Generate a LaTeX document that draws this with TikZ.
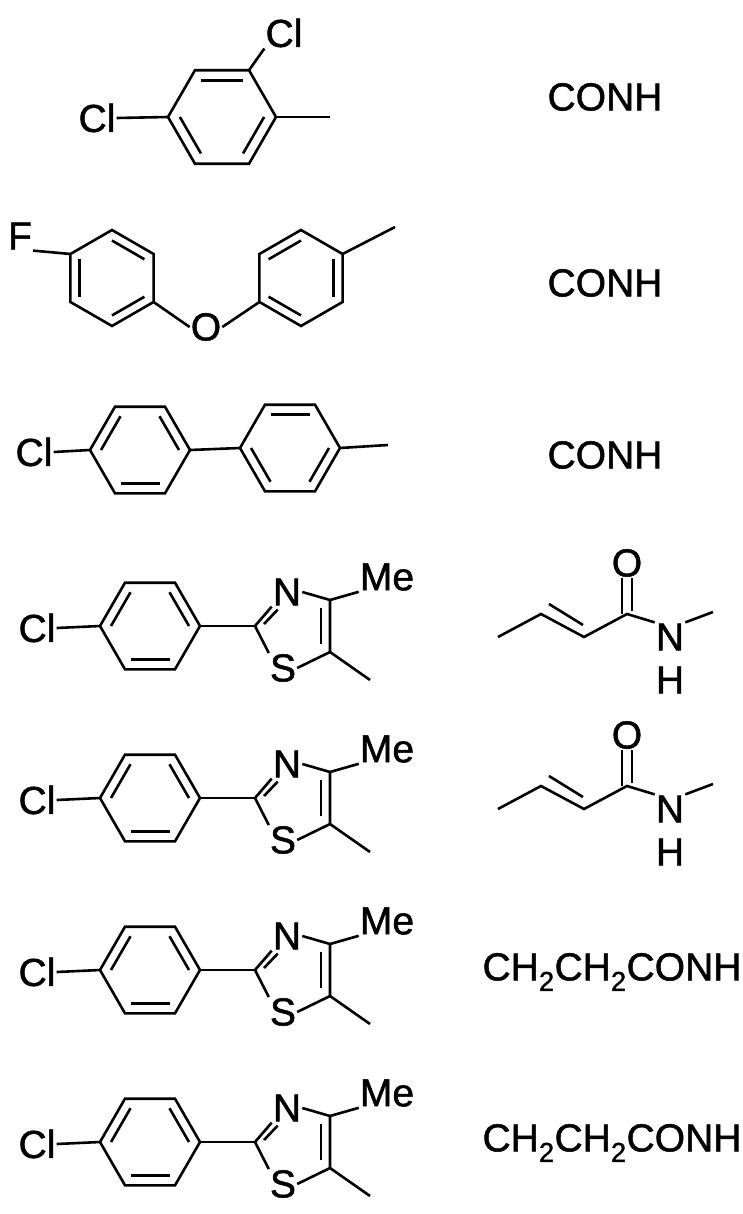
\documentclass[tikz,border=0pt]{standalone}
\usepackage{fontspec}
\setmainfont{Liberation Sans}[BoldFont=Liberation Sans,BoldFeatures={FakeBold=1.3}]
\usetikzlibrary{calc}
\newcommand\hexring[4]{% prefix, center, radius, start angle
  \coordinate (#1c) at #2;
  \foreach \k in {0,...,5}{\coordinate (#1\k) at ($(#1c)+(#4+60*\k:#3)$);}
  \draw[bond] (#10)--(#11)--(#12)--(#13)--(#14)--(#15)--cycle;}
\newcommand\inner[3]{\draw[bond] ($(#1#2)!0.22!(#1c)$)--($(#1#3)!0.22!(#1c)$);}
\newcommand\thiazrow[2]{%
\begin{scope}[shift={(0,#1)},name prefix=#2]
 \hexring{b}{(150,626)}{50}{0}
 \inner{b}{5}{0}\inner{b}{1}{2}\inner{b}{3}{4}
 \node[lab] (cl) at (37,628) {Cl};
 \draw[bond] (cl.east)--(b3);
 \coordinate (c2) at (255,626);
 \node[lab] (n) at (287,592) {N};
 \coordinate (c4) at (330,600);
 \coordinate (c5) at (330,652);
 \node[lab] (s) at (283,668) {S};
 \draw[bond] (b0)--(c2);
 \draw[bond] (c2)--(n.south west);
 \draw[bond] ($(c2)+(9,-2)$)--($(n.south west)+(6,3)$);
 \draw[bond] (n.east)--(c4)--(c5)--(s.east);
 \draw[bond] ($(c4)+(-9,8)$)--($(c5)+(-9,-8)$);
 \draw[bond] (s.north west)--(c2);
 \node[lab] (me) at (387,577) {Me};
 \draw[bond] (c4)--(me.south west);
 \coordinate (m5) at (370,680);
 \draw[bond] (c5)--(m5);
\end{scope}}
\begin{document}
\begin{tikzpicture}[x=1pt,y=-1pt,
  bond/.style={line width=2.6pt,line join=miter},
  lab/.style={font=\fontsize{39}{39}\selectfont\bfseries,inner sep=1pt}]
\useasboundingbox (0,0) rectangle (743,1214);
% row 1
\hexring{a}{(222,117)}{54}{0}
\inner{a}{4}{5}\inner{a}{0}{1}\inner{a}{2}{3}
\node[lab] (cl1) at (284,33) {Cl};
\node[lab] (cl2) at (97,118) {Cl};
\draw[bond] (a5)--(cl1.south west);
\draw[bond] (cl2.east)--(a3);
\coordinate (m1) at (330,117);
\draw[bond] (a0)--(m1);
\node[lab] (t1) at (605,97) {CONH};
% row 2
\hexring{d}{(112,278)}{48}{30}
\inner{d}{4}{5}\inner{d}{3}{2}\inner{d}{1}{0}
\hexring{e}{(301,278)}{48}{30}
\inner{e}{3}{4}\inner{e}{5}{0}\inner{e}{2}{1}
\node[lab] (f) at (20,236) {F};
\draw[bond] (f.south east)--(d3);
\node[lab] (o) at (206,327) {O};
\draw[bond] (d0)--(o.west);
\draw[bond] (o.east)--(e2);
\coordinate (m2) at (395,227);
\draw[bond] (e5)--(m2);
\node[lab] (t2) at (605,283) {CONH};
% row 3
\hexring{g}{(140,450)}{50}{0}
\inner{g}{5}{0}\inner{g}{1}{2}\inner{g}{3}{4}
\hexring{h}{(290,448)}{50}{0}
\inner{h}{4}{5}\inner{h}{0}{1}\inner{h}{3}{2}
\node[lab] (cl3) at (34,452) {Cl};
\draw[bond] (cl3.east)--(g3);
\draw[bond] (g0)--(h3);
\coordinate (m3) at (388,445);
\draw[bond] (h0)--(m3);
\node[lab] (t3) at (605,455) {CONH};
% rows 4-7
\thiazrow{0}{r4}
\thiazrow{172}{r5}
\thiazrow{344}{r6}
\thiazrow{516}{r7}
% amide chains
\foreach \dy/\p in {0/p,172/q}{
\begin{scope}[shift={(0,\dy)},name prefix=\p]
 \coordinate (k1) at (498,637);
 \coordinate (k2) at (541,614);
 \coordinate (k3) at (584,637);
 \coordinate (k4) at (627,614);
 \node[lab] (ox) at (627,563) {O};
 \node[lab] (nx) at (670,637) {N};
 \node[lab] (hx) at (670,680) {H};
 \coordinate (k5) at (713,612);
 \draw[bond] (k1)--(k2)--(k3)--(k4)--(nx.north west);
 \draw[bond] (549,604)--(583,625);
 \draw[bond] ($(k4)+(-5,0)$)--($(ox.south)+(-5,0)$);
 \draw[bond] ($(k4)+(5,-3)$)--($(ox.south)+(5,0)$);
 \draw[bond] (nx.north east)--(k5);
\end{scope}}
\node[lab] (t6) at (612,972) {CH\textsubscript{2}CH\textsubscript{2}CONH};
\node[lab] (t7) at (612,1143) {CH\textsubscript{2}CH\textsubscript{2}CONH};
\end{tikzpicture}
\end{document}
